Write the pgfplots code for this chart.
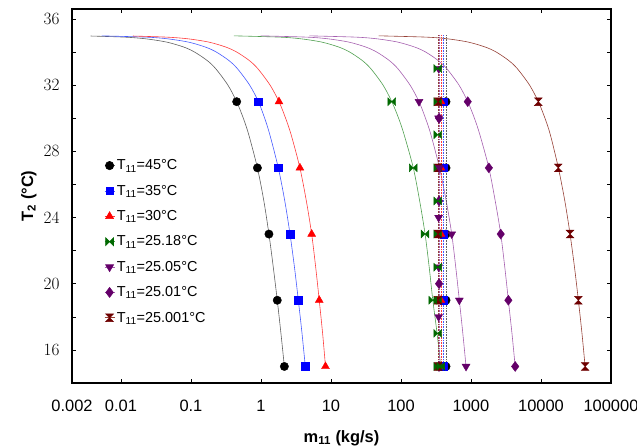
\documentclass[border=0pt]{standalone}
\usepackage{fontspec}
\setmainfont{Liberation Sans}
\usepackage{pgfplots}
\pgfplotsset{compat=1.18}
\definecolor{mgreen}{RGB}{0,105,0}
\definecolor{lgreen}{RGB}{80,160,80}
\definecolor{mpurple}{RGB}{100,0,105}
\definecolor{lpurple}{RGB}{165,95,175}
\definecolor{mbrown}{RGB}{110,0,0}
\definecolor{lbrown}{RGB}{150,65,55}
\definecolor{lblack}{RGB}{95,95,95}
\definecolor{lblue}{RGB}{70,90,255}
\definecolor{lred}{RGB}{255,60,60}
\pgfdeclareplotmark{bowtie}{%
  \pgfpathmoveto{\pgfqpoint{-\pgfplotmarksize}{\pgfplotmarksize}}%
  \pgfpathlineto{\pgfqpoint{\pgfplotmarksize}{-\pgfplotmarksize}}%
  \pgfpathlineto{\pgfqpoint{\pgfplotmarksize}{\pgfplotmarksize}}%
  \pgfpathlineto{\pgfqpoint{-\pgfplotmarksize}{-\pgfplotmarksize}}%
  \pgfpathclose\pgfusepathqfillstroke}
\pgfdeclareplotmark{hourglass}{%
  \pgfpathmoveto{\pgfqpoint{-\pgfplotmarksize}{\pgfplotmarksize}}%
  \pgfpathlineto{\pgfqpoint{\pgfplotmarksize}{\pgfplotmarksize}}%
  \pgfpathlineto{\pgfqpoint{-\pgfplotmarksize}{-\pgfplotmarksize}}%
  \pgfpathlineto{\pgfqpoint{\pgfplotmarksize}{-\pgfplotmarksize}}%
  \pgfpathclose\pgfusepathqfillstroke}
\begin{document}
\begin{tikzpicture}
\begin{axis}[
  scale only axis, width=539bp, height=374bp,
  xmode=log, xmin=0.002, xmax=100000, ymin=14, ymax=36.6,
  xtick={0.002,0.01,0.1,1,10,100,1000,10000,100000},
  xticklabels={0.002,0.01,0.1,1,10,100,1000,10000,100000},
  xminorticks=false,
  ytick={16,20,24,28,32,36}, minor ytick={14,18,22,26,30,34},
  tick align=inside, major tick length=4bp, minor tick length=4bp,
  tick style={black, line width=0.5pt},
  axis line style={line width=1.4pt},
  ticklabel style={font=\fontsize{16.5}{19}\selectfont},
  yticklabel style={xshift=-9bp},
  xticklabel style={yshift=-14bp},
  xlabel={\textbf{m\textsubscript{11} (kg/s)}},
  ylabel={\textbf{T\textsubscript{2} (°C)}},
  label style={font=\fontsize{16.5}{19}\selectfont},
  xlabel style={at={(axis description cs:0.5,-0.147)}, anchor=center},
  ylabel style={at={(axis description cs:-0.08,0.5)}, anchor=center, rotate=0},
  legend style={draw=none, fill=none, at={(0.054,0.608)}, anchor=north west,
    font=\fontsize{14.5}{17}\selectfont, row sep=9.8bp, legend cell align=left},
  legend image code/.code={\draw[#1, sharp plot, mark repeat=2, mark phase=2, line width=0.6pt] plot coordinates {(0bp,0bp) (5bp,0bp) (10bp,0bp)};},
]
% ---- main curves ----
\addplot[lblack, line width=0.6pt, smooth, forget plot] coordinates {(0.0037,34.967)(0.0113,34.9)(0.0225,34.8)(0.045,34.6)(0.079,34.3)(0.1125,34)(0.169,33.5)(0.225,33)(0.3375,32)(0.45,31)(0.56,30)(0.67,29)(0.89,27)(1.10,25)(1.30,23)(1.50,21)(1.71,19)(1.93,17)(2.16,15)};
\addplot[lblue, line width=0.6pt, smooth, forget plot] coordinates {(0.0053,34.977)(0.023,34.9)(0.046,34.8)(0.092,34.6)(0.161,34.3)(0.23,34)(0.345,33.5)(0.46,33)(0.69,32)(0.92,31)(1.13,30)(1.34,29)(1.77,27)(2.19,25)(2.6,23)(3.01,21)(3.42,19)(3.86,17)(4.3,15)};
\addplot[lred, line width=0.6pt, smooth, forget plot] coordinates {(0.0148,34.967)(0.045,34.9)(0.09,34.8)(0.18,34.6)(0.315,34.3)(0.45,34)(0.675,33.5)(0.9,33)(1.35,32)(1.81,31)(2.25,30)(2.7,29)(3.6,27)(4.45,25)(5.3,23)(6.05,21)(6.8,19)(7.6,17)(8.35,15)};
\addplot[lgreen, line width=0.6pt, smooth, forget plot] coordinates {(0.41,34.978)(1.85,34.9)(3.7,34.8)(7.4,34.6)(12.95,34.3)(18.5,34)(27.75,33.5)(37,33)(55.5,32)(74,31)(92.5,30)(111,29)(150,27)(185,25)(221,23)(253,21)(285,19)(328,17)(370,15)};
\addplot[lpurple, line width=0.6pt, smooth, forget plot] coordinates {(0.99,34.978)(4.5,34.9)(9,34.8)(18,34.6)(31.5,34.3)(45,34)(67.5,33.5)(90,33)(135,32)(181,31)(224,30)(268,29)(355,27)(443,25)(531,23)(606,21)(682,19)(765,17)(850,15)};
\addplot[lpurple, line width=0.6pt, smooth, forget plot] coordinates {(4.9,34.978)(22.5,34.9)(45,34.8)(90,34.6)(157,34.3)(225,34)(337,33.5)(450,33)(675,32)(899,31)(1120,30)(1340,29)(1800,27)(2220,25)(2661,23)(3040,21)(3420,19)(3850,17)(4280,15)};
\addplot[lbrown, line width=0.6pt, smooth, forget plot] coordinates {(48,34.979)(229,34.9)(458,34.8)(916,34.6)(1600,34.3)(2290,34)(3430,33.5)(4580,33)(6870,32)(9170,31)(11400,30)(13600,29)(17700,27)(21900,25)(26000,23)(30100,21)(34200,19)(38500,17)(42700,15)};
% ---- cluster of dotted vertical lines ----
\addplot[lblack, densely dotted, line width=0.6pt, forget plot] coordinates {(440,35)(440,15)};
\addplot[lblue, densely dotted, line width=0.6pt, forget plot] coordinates {(405,35)(405,15)};
\addplot[lred, densely dotted, line width=0.6pt, forget plot] coordinates {(372,35)(372,15)};
\addplot[lpurple, densely dotted, line width=0.6pt, forget plot] coordinates {(350,35)(350,15)};
\addplot[lpurple, densely dotted, line width=0.6pt, forget plot] coordinates {(345,35)(345,15)};
\addplot[lgreen, densely dotted, line width=0.6pt, forget plot] coordinates {(336,35)(336,15)};
\addplot[lbrown, densely dotted, line width=0.6pt, forget plot] coordinates {(340,35)(340,15)};
\addplot[only marks, mark=*, mark size=4.2, mark options={solid, fill=black, draw=black}, forget plot] coordinates {(440,31)(440,27)(440,23)(440,19)(440,15)};
\addplot[only marks, mark=square*, mark size=3.8, mark options={solid, fill=blue, draw=blue}, forget plot] coordinates {(405,31)(405,27)(405,23)(405,19)(405,15)};
\addplot[only marks, mark=triangle*, mark size=4.6, mark options={solid, fill=red, draw=red}, forget plot] coordinates {(372,31)(372,27)(372,23)(372,19)(372,15)};
\addplot[only marks, mark=diamond*, mark size=5, mark options={solid, fill=mpurple, draw=mpurple}, forget plot] coordinates {(350,30)(350,25)(350,20)(350,15)};
\addplot[only marks, mark=triangle*, mark size=4.6, mark options={solid, fill=mpurple, draw=mpurple, rotate=180}, forget plot] coordinates {(345,33)(345,30)(345,27)(345,24)(345,21)(345,18)(345,15)};
\addplot[only marks, mark=bowtie, mark size=3.9, mark options={solid, fill=mgreen, draw=mgreen}, forget plot] coordinates {(336,33)(336,31)(336,29)(336,27)(336,25)(336,23)(336,21)(336,19)(336,17)(336,15)};
\addplot[only marks, mark=hourglass, mark size=3.9, mark options={solid, fill=mbrown, draw=mbrown}, forget plot] coordinates {(340,31)(340,27)(340,23)(340,19)(340,15)};
% ---- markers on main curves (legend) ----
\addplot[only marks, draw=lblack, mark=*, mark size=4.2, mark options={solid, fill=black, draw=black}] coordinates {(0.45,31)(0.89,27)(1.30,23)(1.71,19)(2.16,15)};
\addlegendentry{T\textsubscript{11}=45°C}
\addplot[only marks, draw=lblue, mark=square*, mark size=3.8, mark options={solid, fill=blue, draw=blue}] coordinates {(0.92,31)(1.77,27)(2.6,23)(3.42,19)(4.3,15)};
\addlegendentry{T\textsubscript{11}=35°C}
\addplot[only marks, draw=lred, mark=triangle*, mark size=4.6, mark options={solid, fill=red, draw=red}] coordinates {(1.81,31)(3.6,27)(5.3,23)(6.8,19)(8.35,15)};
\addlegendentry{T\textsubscript{11}=30°C}
\addplot[only marks, draw=lgreen, mark=bowtie, mark size=3.9, mark options={solid, fill=mgreen, draw=mgreen}] coordinates {(74,31)(150,27)(221,23)(285,19)(370,15)};
\addlegendentry{T\textsubscript{11}=25.18°C}
\addplot[only marks, draw=lpurple, mark=triangle*, mark size=4.6, mark options={solid, fill=mpurple, draw=mpurple, rotate=180}] coordinates {(181,31)(355,27)(531,23)(682,19)(850,15)};
\addlegendentry{T\textsubscript{11}=25.05°C}
\addplot[only marks, draw=lpurple, mark=diamond*, mark size=5, mark options={solid, fill=mpurple, draw=mpurple}] coordinates {(899,31)(1800,27)(2661,23)(3420,19)(4280,15)};
\addlegendentry{T\textsubscript{11}=25.01°C}
\addplot[only marks, draw=lbrown, mark=hourglass, mark size=3.9, mark options={solid, fill=mbrown, draw=mbrown}] coordinates {(9170,31)(17700,27)(26000,23)(34200,19)(42700,15)};
\addlegendentry{T\textsubscript{11}=25.001°C}
\end{axis}
\pgfresetboundingbox
\useasboundingbox (-72bp,-65bp) rectangle (565bp,383bp);
\end{tikzpicture}
\end{document}
